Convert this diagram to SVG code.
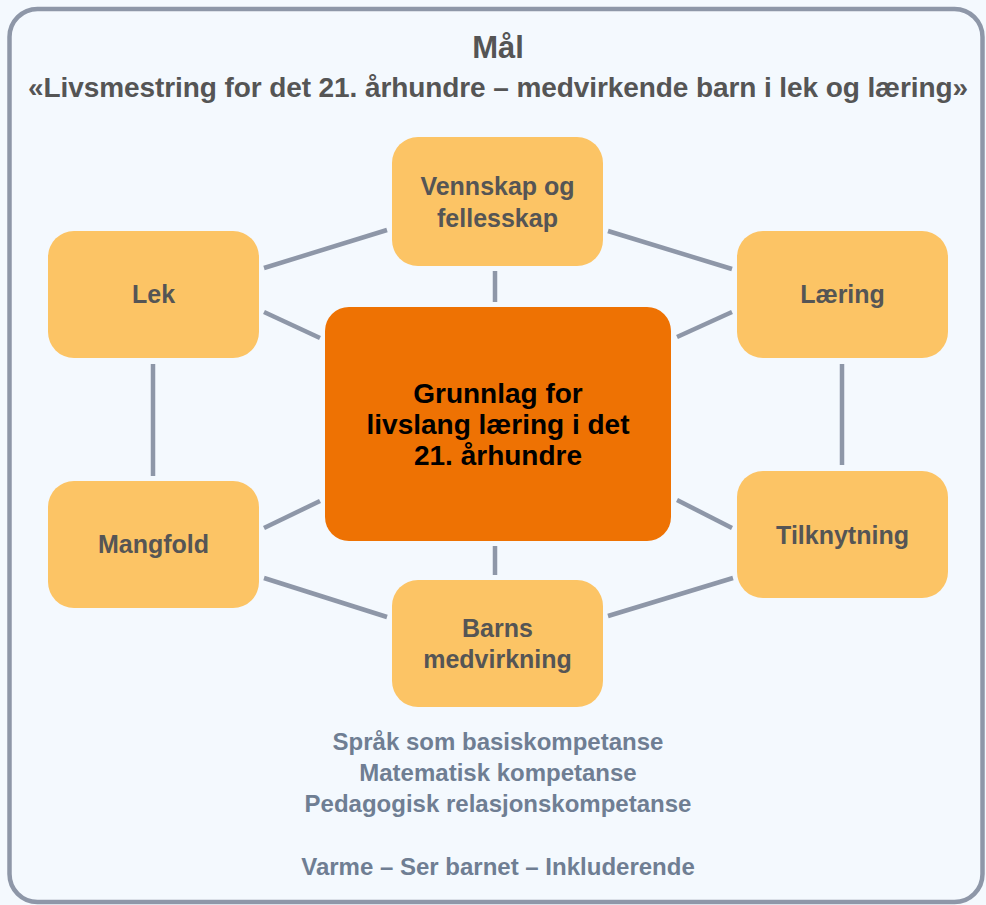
<svg xmlns="http://www.w3.org/2000/svg" width="986" height="905" viewBox="0 0 986 905">
  <style>
    .frame { fill: #f4f9fe; stroke: #8e97a8; stroke-width: 4.5; }
    .node rect { fill: #fcc465; }
    .node text { font-family: "Liberation Sans", Arial, sans-serif; font-weight: bold; font-size: 25px; fill: #555555; text-anchor: middle; }
    .center rect { fill: #ee7203; }
    .center text { font-family: "Liberation Sans", Arial, sans-serif; font-weight: bold; font-size: 28px; fill: #000000; text-anchor: middle; }
    .conn line { stroke: #8e97a8; stroke-width: 4.5; stroke-linecap: butt; }
    .title { font-family: "Liberation Sans", Arial, sans-serif; font-weight: bold; fill: #555555; text-anchor: middle; }
    .foot { font-family: "Liberation Sans", Arial, sans-serif; font-weight: bold; font-size: 24px; fill: #6f7e93; text-anchor: middle; }
  </style>
  <rect x="0" y="0" width="986" height="905" fill="#f4f9fe"/>
  <rect class="frame" x="9.5" y="9" width="973" height="893" rx="28" ry="28"/>

  <g id="title">
    <text class="title" x="498" y="58" font-size="31">Mål</text>
    <text class="title" x="498" y="97" font-size="28" textLength="940" lengthAdjust="spacing">«Livsmestring for det 21. århundre – medvirkende barn i lek og læring»</text>
  </g>

  <g id="connectors" class="conn">
    <line x1="264" y1="268" x2="387" y2="230"/>
    <line x1="608" y1="231" x2="732" y2="269"/>
    <line x1="495" y1="271" x2="495" y2="302"/>
    <line x1="264" y1="312" x2="320" y2="338"/>
    <line x1="732" y1="312" x2="677" y2="337"/>
    <line x1="153" y1="364" x2="153" y2="476"/>
    <line x1="842" y1="364" x2="842" y2="465"/>
    <line x1="320" y1="501" x2="264" y2="528"/>
    <line x1="677" y1="500" x2="732" y2="528"/>
    <line x1="495" y1="546" x2="495" y2="575"/>
    <line x1="264" y1="578" x2="387" y2="617"/>
    <line x1="733" y1="578" x2="608" y2="616"/>
  </g>

  <g id="node-vennskap" class="node">
    <rect x="392" y="137" width="211" height="129" rx="26"/>
    <text x="497.5" y="195">Vennskap og</text>
    <text x="497.5" y="227">fellesskap</text>
  </g>
  <g id="node-lek" class="node">
    <rect x="48" y="231" width="211" height="127" rx="26"/>
    <text x="153.5" y="303">Lek</text>
  </g>
  <g id="node-laering" class="node">
    <rect x="737" y="231" width="211" height="127" rx="26"/>
    <text x="842.5" y="303">Læring</text>
  </g>
  <g id="node-center" class="center">
    <rect x="325" y="307" width="346" height="234" rx="24"/>
    <text x="498" y="403">Grunnlag for</text>
    <text x="498" y="434">livslang læring i det</text>
    <text x="498" y="465">21. århundre</text>
  </g>
  <g id="node-mangfold" class="node">
    <rect x="48" y="481" width="211" height="127" rx="26"/>
    <text x="153.5" y="553">Mangfold</text>
  </g>
  <g id="node-tilknytning" class="node">
    <rect x="737" y="471" width="211" height="127" rx="26"/>
    <text x="842.5" y="544">Tilknytning</text>
  </g>
  <g id="node-barns" class="node">
    <rect x="392" y="580" width="211" height="127" rx="26"/>
    <text x="497.5" y="637">Barns</text>
    <text x="497.5" y="668">medvirkning</text>
  </g>

  <g id="footer">
    <text class="foot" x="498" y="750">Språk som basiskompetanse</text>
    <text class="foot" x="498" y="781">Matematisk kompetanse</text>
    <text class="foot" x="498" y="812">Pedagogisk relasjonskompetanse</text>
    <text class="foot" x="498" y="875">Varme – Ser barnet – Inkluderende</text>
  </g>
</svg>
